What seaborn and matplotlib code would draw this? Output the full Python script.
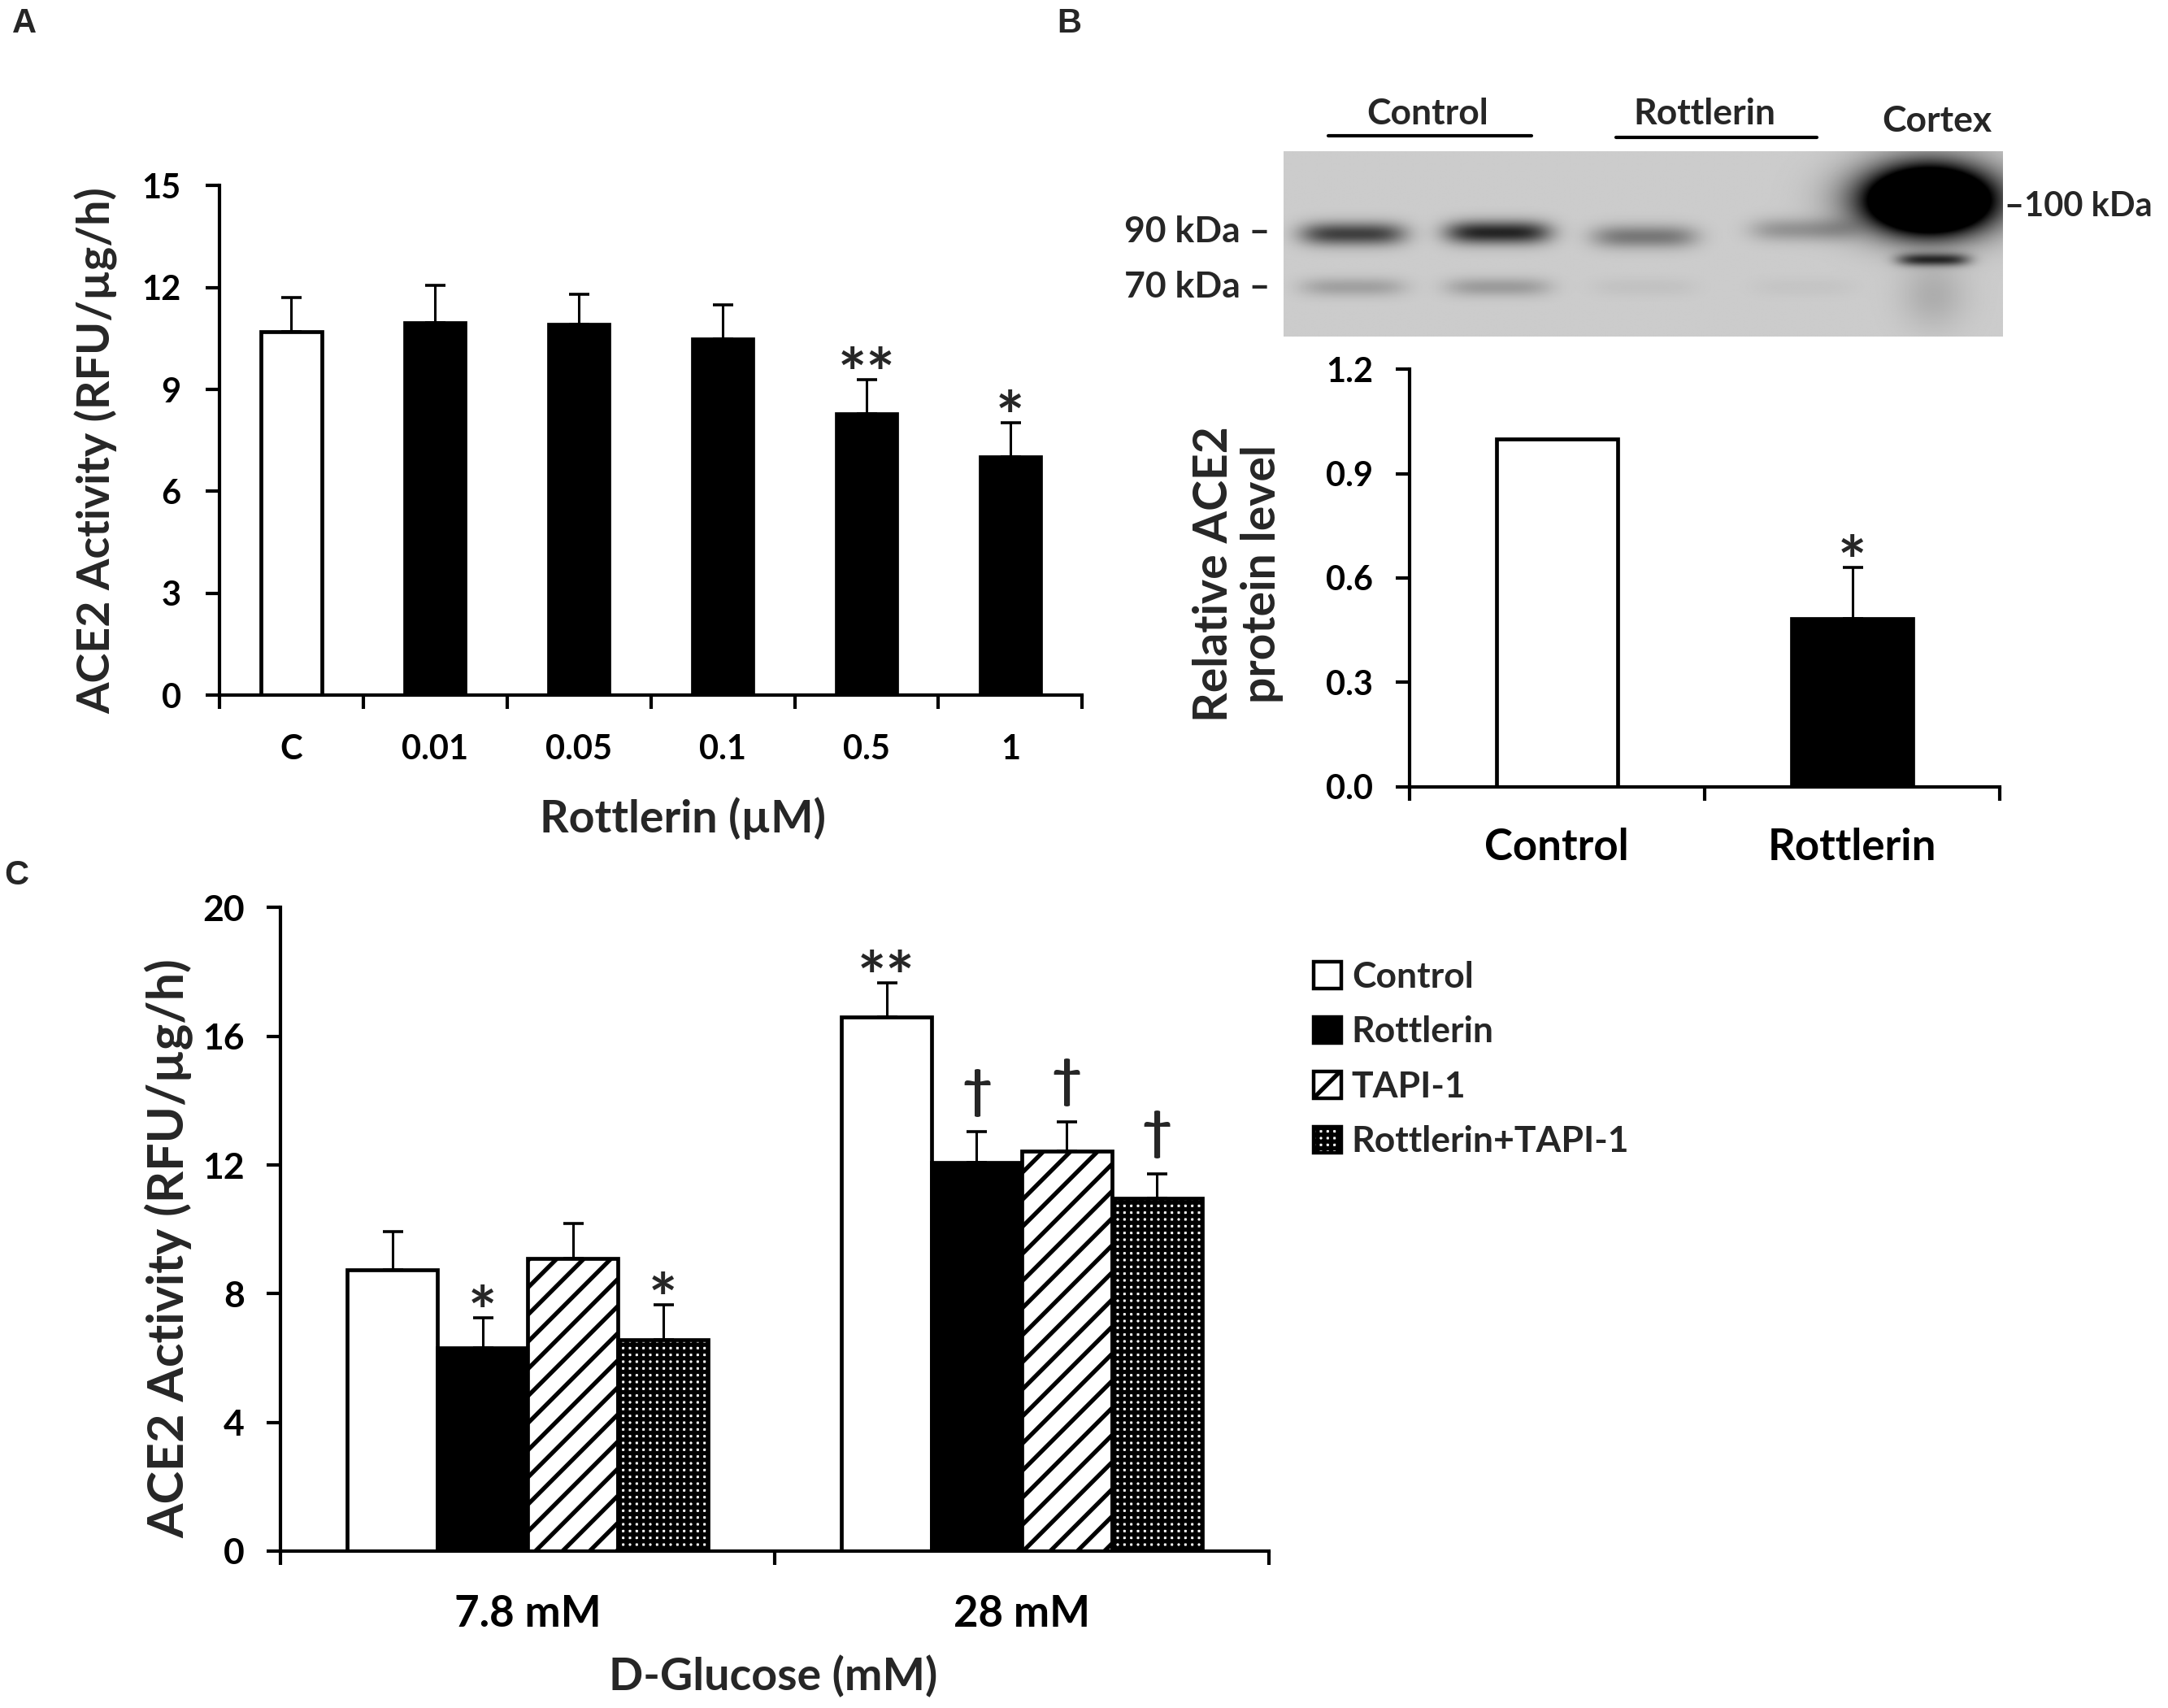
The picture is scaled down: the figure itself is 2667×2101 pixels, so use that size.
import numpy as np
import pandas as pd
import matplotlib
matplotlib.use("Agg")
import matplotlib.pyplot as plt
from matplotlib.patches import Patch
from matplotlib.ticker import FixedLocator, FormatStrFormatter, NullFormatter
import seaborn as sns

# ---------------- data ----------------
# Panel A
a_labels = ["C", "0.01", "0.05", "0.1", "0.5", "1"]
a_values = [10.70, 10.97, 10.92, 10.49, 8.28, 7.02]
a_errors = [1.00, 1.10, 0.88, 1.00, 1.01, 1.01]
a_marks = ["", "", "", "", "**", "*"]

# Panel B
b_labels = ["Control", "Rottlerin"]
b_values = [1.00, 0.483]
b_errors = [0.0, 0.148]
b_marks = ["", "*"]

# Panel C
c_groups = ["7.8 mM", "28 mM"]
c_treatments = ["Control", "Rottlerin", "TAPI-1", "Rottlerin+TAPI-1"]
c_control = [8.73, 16.61]
c_rottlerin = [6.31, 12.08]
c_tapi = [9.10, 12.42]
c_combo = [6.56, 10.97]
c_control_err = [1.19, 1.05]
c_rottlerin_err = [0.94, 0.95]
c_tapi_err = [1.09, 0.92]
c_combo_err = [1.10, 0.76]
c_control_marks = ["", "**"]
c_rottlerin_marks = ["*", "\u2020"]
c_tapi_marks = ["", "\u2020"]
c_combo_marks = ["*", "\u2020"]

# Western blot band intensities (lanes: Control, Control, Rottlerin, Rottlerin)
blot_90kda = [0.55, 0.66, 0.33, 0.22]
blot_70kda = [0.17, 0.19, 0.04, 0.03]

# ---------------- style ----------------
sns.set_style("ticks")
FONT = ["Lato", "DejaVu Sans"]
plt.rcParams["font.family"] = FONT
plt.rcParams["font.weight"] = "bold"
plt.rcParams["axes.labelweight"] = "bold"
plt.rcParams["hatch.linewidth"] = 1.9
plt.rcParams["axes.linewidth"] = 1.5
plt.rcParams["axes.edgecolor"] = "black"
plt.rcParams["xtick.color"] = "black"
plt.rcParams["ytick.color"] = "black"

fig = plt.figure(figsize=(13.335, 10.505), dpi=200)

BAR_LW = 1.7


def style_axis(ax, yticks, ylim, xlim, xbounds, ytick_size, xtick_size, xpad, ypad, fmt=None):
    sns.despine(ax=ax)
    ax.set_ylim(*ylim)
    ax.set_xlim(*xlim)
    ax.set_yticks(yticks)
    if fmt:
        ax.yaxis.set_major_formatter(FormatStrFormatter(fmt))
    ax.tick_params(axis="y", direction="out", length=6, width=1.5, labelsize=ytick_size, pad=ypad)
    ax.tick_params(axis="x", which="major", length=0, labelsize=xtick_size, pad=xpad)
    ax.xaxis.set_minor_locator(FixedLocator(xbounds))
    ax.xaxis.set_minor_formatter(NullFormatter())
    ax.tick_params(axis="x", which="minor", direction="out", length=6, width=1.5)
    for lab in ax.get_xticklabels() + ax.get_yticklabels():
        lab.set_fontweight("bold")


def add_errors(ax, bars, errs, capsize=4.5):
    xs = [b.get_x() + b.get_width() / 2 for b in bars]
    tops = [b.get_height() for b in bars]
    sel = [i for i, e in enumerate(errs) if e > 0]
    ax.errorbar([xs[i] for i in sel], [tops[i] for i in sel],
                yerr=[[0] * len(sel), [errs[i] for i in sel]],
                fmt="none", ecolor="black", elinewidth=1.1, capsize=capsize,
                capthick=1.3, zorder=1)
    return xs, [t + e for t, e in zip(tops, errs)]


def add_marks(ax, xs, ys, marks):
    for x, y, m in zip(xs, ys, marks):
        if not m:
            continue
        if m == "\u2020":
            ax.annotate(m, (x, y), xytext=(0, 11), textcoords="offset points",
                        ha="center", va="baseline", fontsize=23, fontweight="bold")
        else:
            ax.annotate(m, (x, y), xytext=(0, -8), textcoords="offset points",
                        ha="center", va="baseline", fontsize=30, fontweight="bold")


# ---------------- Panel A ----------------
axA = fig.add_axes([0.1012, 0.5929, 0.398, 0.2985])
sns.barplot(x=a_labels, y=a_values, hue=a_labels, order=a_labels, hue_order=a_labels,
            palette=["white"] + ["black"] * 5, edgecolor="black", linewidth=BAR_LW,
            width=0.42, legend=False, errorbar=None, ax=axA, zorder=2)
style_axis(axA, [0, 3, 6, 9, 12, 15], (0, 15), (-0.5, 5.5), np.arange(-0.5, 6.0, 1.0),
           15, 15, 17, 11)
xsA, topsA = add_errors(axA, axA.patches[:len(a_values)], a_errors)
add_marks(axA, xsA, topsA, a_marks)
axA.set_ylabel("ACE2 Activity (RFU/\u00b5g/h)", fontsize=20, fontweight="bold", va="center")
axA.yaxis.set_label_coords(-0.142, 0.48)
axA.set_xlabel("Rottlerin (\u00b5M)", fontsize=20, fontweight="bold", va="center")
axA.xaxis.set_label_coords(0.537, -0.242)

# ---------------- Panel B (bar chart) ----------------
axB = fig.add_axes([0.650, 0.5395, 0.2725, 0.2442])
sns.barplot(x=b_labels, y=b_values, hue=b_labels, order=b_labels, hue_order=b_labels,
            palette=["white", "black"], edgecolor="black", linewidth=BAR_LW,
            width=0.41, legend=False, errorbar=None, ax=axB, zorder=2)
style_axis(axB, [0.0, 0.3, 0.6, 0.9, 1.2], (0, 1.2), (-0.5, 1.5), [-0.5, 0.5, 1.5],
           15, 19, 18, 10, fmt="%.1f")
xsB, topsB = add_errors(axB, axB.patches[:len(b_values)], b_errors)
add_marks(axB, xsB, topsB, b_marks)
axB.set_ylabel("Relative ACE2\nprotein level", fontsize=20.5, fontweight="bold",
               va="center", linespacing=1.15)
axB.yaxis.set_label_coords(-0.29, 0.509)
axB.set_xlabel("")

# ---------------- Panel B (western blot) ----------------
axW = fig.add_axes([0.5922, 0.8031, 0.3318, 0.1086])
x0, x1, y0, y1 = 928.0, 1448.0, 109.0, 245.0
xx, yy = np.meshgrid(np.linspace(x0, x1, 780), np.linspace(y0, y1, 204))
dark = np.zeros_like(xx)
lane_x = [978, 1083, 1189, 1304]
lane_y90 = [170, 169, 172, 167]
for cx, cy, d in zip(lane_x, lane_y90, blot_90kda):
    dark += d * np.exp(-((xx - cx) / 38.0) ** 4 - ((yy - cy) / 8.5) ** 2)
for cx, d in zip(lane_x, blot_70kda):
    dark += d * np.exp(-((xx - cx) / 38.0) ** 4 - ((yy - 209.0) / 7.0) ** 2)
# cortex lane
dark += 2.0 * np.exp(-((xx - 1395) / 44.0) ** 2 - ((yy - 146) / 23.0) ** 2)
dark += 0.2 * np.exp(-((xx - 1395) / 50.0) ** 2 - ((yy - 135) / 30.0) ** 2)
dark += 0.55 * np.exp(-((xx - 1398) / 26.0) ** 4 - ((yy - 189) / 4.5) ** 2)
dark += 0.12 * np.exp(-((xx - 1398) / 24.0) ** 2 - ((yy - 215) / 25.0) ** 2)
img = np.clip(0.80 - dark, 0, 1)
axW.imshow(img, cmap="gray", vmin=0, vmax=1, extent=[x0, x1, y1, y0],
           aspect="auto", interpolation="bilinear")
axW.set_xlim(x0, x1)
axW.set_ylim(y1, y0)
axW.axis("off")
lab_kw = dict(fontsize=16, fontweight="bold", clip_on=False)
axW.text(1032, 82, "Control", ha="center", va="center", **lab_kw)
axW.text(1232, 82, "Rottlerin", ha="center", va="center", **lab_kw)
axW.text(1400, 87, "Cortex", ha="center", va="center", **lab_kw)
axW.plot([960, 1107], [98, 98], color="black", lw=1.5, clip_on=False)
axW.plot([1168, 1313], [99, 99], color="black", lw=1.5, clip_on=False)
axW.text(918, 168, "90 kDa \u2013", ha="right", va="center", **lab_kw)
axW.text(918, 209, "70 kDa \u2013", ha="right", va="center", **lab_kw)
axW.text(1449, 150, "\u2013100 kDa", ha="left", va="center",
         fontsize=15, fontweight="bold", clip_on=False)

# ---------------- Panel C ----------------
axC = fig.add_axes([0.1295, 0.0919, 0.4557, 0.3767])
values_by_treat = [c_control, c_rottlerin, c_tapi, c_combo]
errors_by_treat = [c_control_err, c_rottlerin_err, c_tapi_err, c_combo_err]
marks_by_treat = [c_control_marks, c_rottlerin_marks, c_tapi_marks, c_combo_marks]
dfC = pd.DataFrame({
    "glucose": [g for _ in c_treatments for g in c_groups],
    "treatment": [t for t in c_treatments for _ in c_groups],
    "value": [v for vals in values_by_treat for v in vals],
})
sns.barplot(data=dfC, x="glucose", y="value", hue="treatment", order=c_groups,
            hue_order=c_treatments, palette=["white", "black", "white", "white"],
            edgecolor="black", linewidth=BAR_LW, width=0.73, legend=False,
            errorbar=None, ax=axC, zorder=2)
hatches = [None, None, "//", "++++"]
for cont, h, errs, marks in zip(axC.containers, hatches, errors_by_treat, marks_by_treat):
    for bar in cont:
        if h:
            bar.set_hatch(h)
    xsC, topsC = add_errors(axC, list(cont), errs)
    add_marks(axC, xsC, topsC, marks)
style_axis(axC, [0, 4, 8, 12, 16, 20], (0, 20), (-0.5, 1.5), [-0.5, 0.5, 1.5],
           16, 19, 19, 10)
axC.set_ylabel("ACE2 Activity (RFU/\u00b5g/h)", fontsize=22, fontweight="bold", va="center")
axC.yaxis.set_label_coords(-0.113, 0.471)
axC.set_xlabel("D-Glucose (mM)", fontsize=20, fontweight="bold", va="center")
axC.xaxis.set_label_coords(0.4986, -0.195)

handles = [Patch(facecolor=fc, edgecolor="black", hatch=h, linewidth=1.6, label=t)
           for fc, h, t in zip(["white", "black", "white", "white"], hatches, c_treatments)]
fig.legend(handles=handles, loc="upper left", bbox_to_anchor=(0.606, 0.4375),
           frameon=False, prop={"weight": "bold", "family": FONT, "size": 16},
           handlelength=0.75, handleheight=0.75, handletextpad=0.3, labelspacing=0.62,
           borderaxespad=0, borderpad=0)

# ---------------- panel letters ----------------
let_kw = dict(fontsize=15, fontweight="bold", family=["Liberation Sans", "DejaVu Sans"],
              ha="center", va="center")
fig.text(17.4 / 1567, 1 - 17 / 1234.4, "A", **let_kw)
fig.text(773 / 1567, 1 - 17 / 1234.4, "B", **let_kw)
fig.text(12 / 1567, 1 - 633 / 1234.4, "C", **let_kw)

fig.savefig("out.png", dpi=200)
